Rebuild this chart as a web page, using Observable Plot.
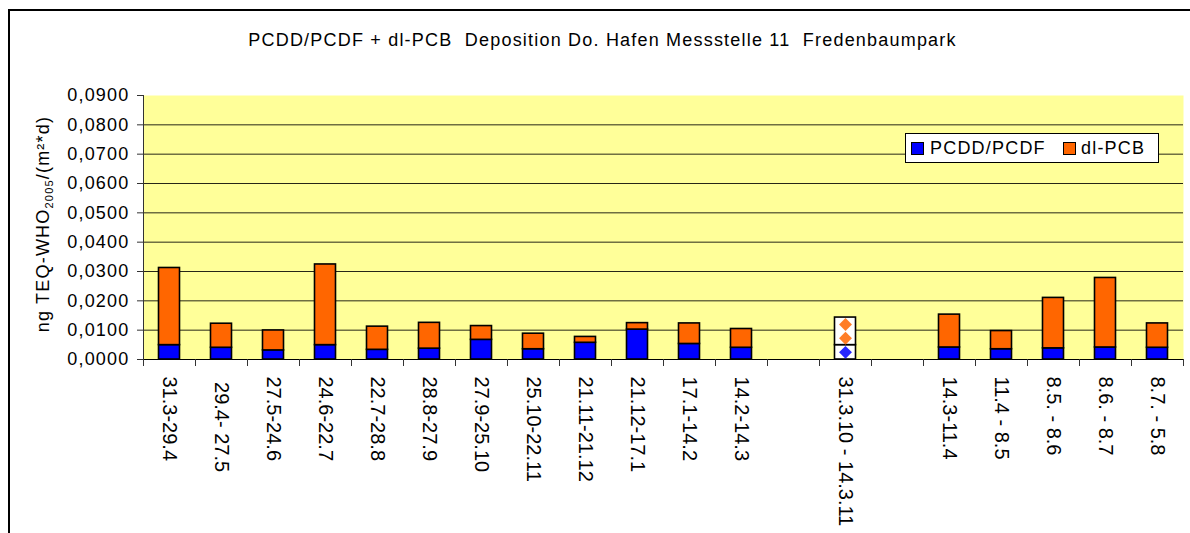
<!DOCTYPE html>
<html>
<head>
<meta charset="utf-8">
<script src="https://cdn.jsdelivr.net/npm/d3@7"></script>
<script src="https://cdn.jsdelivr.net/npm/@observablehq/plot@0.6"></script>
<style>
  body { margin: 0; background: #fff; }
  #wrap { position: relative; width: 1190px; height: 533px; overflow: hidden; font-family: "Liberation Sans", Arial, sans-serif; color: #000; }
  #frame { position: absolute; left: 8px; top: 9px; width: 1400px; height: 800px; border-top: 2px solid #000; border-left: 2px solid #000; }
  #chart { position: absolute; left: 0; top: 0; }
  #title { position: absolute; left: 0; top: 30px; width: 1205px; text-align: center; font-size: 18px; line-height: 20px; letter-spacing: 1.2px; white-space: pre; }
  #legend { position: absolute; left: 905px; top: 133px; width: 252px; height: 28px; border: 1px solid #000; background: #fff; }
  .sw { position: absolute; top: 8px; width: 11px; height: 11px; border: 1px solid #000; }
  .lt { position: absolute; top: 4px; font-size: 18px; line-height: 20px; letter-spacing: 1.2px; white-space: pre; }
</style>
</head>
<body>
<div id="wrap">
  <div id="frame"></div>
  <div id="chart"></div>
  <div id="title"></div>
  <div id="legend"></div>
</div>
<script>
// ---- data ----
const title = "PCDD/PCDF + dl-PCB  Deposition Do. Hafen Messstelle 11  Fredenbaumpark";
const categories = [
  "31.3-29.4", " 29.4- 27.5", "27.5-24.6", "24.6-22.7", "22.7-28.8", "28.8-27.9",
  "27.9-25.10", "25.10-22.11", "21.11-21.12", "21.12-17.1", "17.1-14.2", "14.2-14.3",
  "", "31.3.10 - 14.3.11", " ",
  "14.3-11.4", "11.4 - 8.5", "8.5. - 8.6", "8.6. - 8.7", "8.7. - 5.8"
];
const pcddValues = [
  0.0049, 0.0040, 0.0031, 0.0049, 0.0033, 0.0037,
  0.0067, 0.0035, 0.0057, 0.0102, 0.0053, 0.0040,
  null, 0.0049, null,
  0.0041, 0.0035, 0.0038, 0.0041, 0.0040
];
const dlpcbValues = [
  0.0263, 0.0082, 0.0068, 0.0275, 0.0079, 0.0088,
  0.0047, 0.0053, 0.0020, 0.0022, 0.0070, 0.0064,
  null, 0.0094, null,
  0.0112, 0.0062, 0.0172, 0.0237, 0.0083
];
const patterned = ["31.3.10 - 14.3.11"];
const seriesNames = ["PCDD/PCDF", "dl-PCB"];
const seriesColors = ["#0000FF", "#FF6600"];
const yTicks = [0, 0.01, 0.02, 0.03, 0.04, 0.05, 0.06, 0.07, 0.08, 0.09];
const yLabel = ["ng TEQ-WHO", "2005", "/(m²*d)"];

// ---- layout ----
const W = 1190, H = 533, ML = 143, MR = 7, MT = 95, MB = 174;
const step = (W - ML - MR) / categories.length;

const rows = [];
categories.forEach((c, i) => {
  if (pcddValues[i] == null) return;
  rows.push({cat: c, series: seriesNames[0], value: pcddValues[i], fill: patterned.includes(c) ? "white" : seriesColors[0]});
  rows.push({cat: c, series: seriesNames[1], value: dlpcbValues[i], fill: patterned.includes(c) ? "white" : seriesColors[1]});
});
const diamonds = [];
categories.forEach((c, i) => {
  if (!patterned.includes(c)) return;
  const b = pcddValues[i], o = dlpcbValues[i];
  diamonds.push({cat: c, y: b / 2, color: seriesColors[0]});
  diamonds.push({cat: c, y: b + o * 0.25, color: seriesColors[1]});
  diamonds.push({cat: c, y: b + o * 0.75, color: seriesColors[1]});
});
const fmt = d => d.toFixed(4).replace(".", ",");

const plot = Plot.plot({
  width: W, height: H,
  marginLeft: ML, marginRight: MR, marginTop: MT, marginBottom: MB,
  style: {fontFamily: "'Liberation Sans', Arial, sans-serif", background: "transparent", overflow: "visible", color: "#000"},
  x: {domain: categories, paddingInner: 0.596, paddingOuter: 0.298, round: false},
  y: {domain: [0, 0.09]},
  marks: [
    Plot.frame({fill: "#FFFF99", stroke: null}),
    Plot.gridY(yTicks.slice(1, -1), {stroke: "#000", strokeOpacity: 0.85, strokeWidth: 1}),
    Plot.barY(rows, {x: "cat", y: "value", fill: "fill", stroke: "#000", strokeWidth: 1.6}),
    Plot.dot(diamonds, {x: "cat", y: "y", fill: "color", symbol: "diamond2", r: 5.8, fillOpacity: 0.85}),
    Plot.ruleY([0], {stroke: "#000", strokeWidth: 1}),
    Plot.ruleX([categories[0]], {x: d => d, dx: -step / 2, stroke: "#333", strokeWidth: 1}),
    Plot.ruleX(categories, {x: d => d, y1: 0, y2: 0, dx: -step / 2, insetBottom: -7, stroke: "#333"}),
    Plot.ruleX([categories[categories.length - 1]], {x: d => d, y1: 0, y2: 0, dx: step / 2, insetBottom: -7, stroke: "#333"}),
    Plot.axisY({ticks: yTicks, tickFormat: fmt, tickSize: 6, tickPadding: 8, fontSize: 18, label: null, stroke: "#333"}),
    Plot.axisX({tickSize: 0, tickRotate: 90, tickPadding: 17, fontSize: 20, label: null, tickFormat: d => d})
  ]
});
document.getElementById("chart").appendChild(plot);

const svg = d3.select(plot);
svg.selectAll('g[aria-label="y-axis tick label"] text').attr("letter-spacing", "1.2px");
svg.selectAll('g[aria-label="x-axis tick label"] text').style("white-space", "pre");
const t = svg.append("text")
  .attr("transform", "translate(49,224) rotate(-90)")
  .attr("text-anchor", "middle")
  .attr("font-size", 18)
  .attr("letter-spacing", "1.2px")
  .attr("fill", "#000");
t.append("tspan").text(yLabel[0]);
t.append("tspan").attr("font-size", 11).attr("dy", 4).text(yLabel[1]);
t.append("tspan").attr("dy", -4).text(yLabel[2]);

// title
document.getElementById("title").textContent = title;

// legend
const legend = document.getElementById("legend");
const swX = [5, 157], txtX = [24, 175];
seriesNames.forEach((name, i) => {
  const sw = document.createElement("div");
  sw.className = "sw"; sw.style.left = swX[i] + "px"; sw.style.background = seriesColors[i];
  legend.appendChild(sw);
  const tx = document.createElement("div");
  tx.className = "lt"; tx.style.left = txtX[i] + "px"; tx.textContent = name;
  legend.appendChild(tx);
});
</script>
</body>
</html>
